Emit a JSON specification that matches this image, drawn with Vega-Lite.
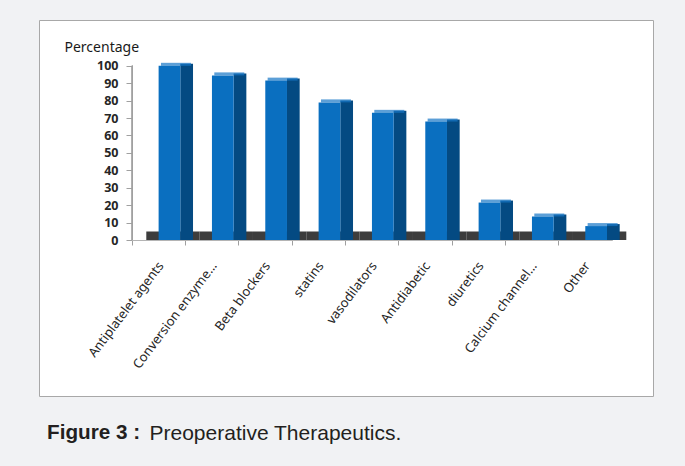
{
  "$schema": "https://vega.github.io/schema/vega-lite/v6.json",
  "width": 614,
  "height": 376,
  "autosize": {"type": "none"},
  "padding": {"left": 39, "top": 20, "right": 32, "bottom": 70},
  "background": "#f1f2f4",
  "config": {
    "view": {"fill": "white", "stroke": "#a8a8a8", "strokeWidth": 1},
    "font": "Noto Sans",
    "axisY": {
      "title": "Percentage",
      "titleAngle": 0,
      "titleAlign": "left",
      "titleBaseline": "middle",
      "titleX": -68,
      "titleY": 27,
      "titleFont": "Noto Sans",
      "titleFontSize": 14,
      "titleFontWeight": "normal",
      "titleColor": "#1a1a1a",
      "offset": -93,
      "domain": false,
      "grid": false,
      "labelOverlap": false,
      "tickSize": 6,
      "tickColor": "#a0a0a0",
      "labelFontSize": 12.5,
      "labelFontWeight": "bold",
      "labelColor": "#262626",
      "labelPadding": 8
    }
  },
  "title": {
    "text": "Figure 3 :",
    "orient": "bottom",
    "anchor": "start",
    "frame": "group",
    "font": "Liberation Sans",
    "fontSize": 20.7,
    "fontWeight": "bold",
    "color": "#231f20",
    "baseline": "alphabetic",
    "dx": 8,
    "offset": -4
  },
  "data": {
    "values": [
      {"drug": "Antiplatelet agents", "pct": 100},
      {"drug": "Conversion enzyme…", "pct": 94.5},
      {"drug": "Beta blockers", "pct": 91.5},
      {"drug": "statins", "pct": 79},
      {"drug": "vasodilators", "pct": 73},
      {"drug": "Antidiabetic", "pct": 68},
      {"drug": "diuretics", "pct": 21.5},
      {"drug": "Calcium channel…", "pct": 13.5},
      {"drug": "Other", "pct": 8}
    ]
  },
  "encoding": {
    "x": {
      "field": "drug",
      "type": "nominal",
      "sort": null,
      "scale": {"paddingInner": 0, "paddingOuter": 0, "range": [93.3, 573.3]},
      "axis": {
        "title": "Preoperative Therapeutics.",
        "titleX": 110,
        "titleY": 199,
        "titleAlign": "left",
        "titleBaseline": "alphabetic",
        "titleFont": "Liberation Sans",
        "titleFontSize": 21,
        "titleFontWeight": "normal",
        "titleColor": "#231f20",
        "offset": -156,
        "domain": true,
        "domainColor": "#b4b4b4",
        "bandPosition": 0,
        "tickSize": 5,
        "tickColor": "#a0a0a0",
        "labelAngle": -53,
        "labelAlign": "right",
        "labelBaseline": "middle",
        "labelOffset": 2,
        "labelPadding": 18,
        "labelFontSize": 13,
        "labelColor": "#262626"
      }
    },
    "y": {
      "field": "pct",
      "type": "quantitative",
      "scale": {"domain": [-89.55, 126.3], "nice": false, "zero": false},
      "axis": {"values": [0, 10, 20, 30, 40, 50, 60, 70, 80, 90, 100], "title": "Percentage"}
    }
  },
  "layer": [
    {
      "mark": {"type": "bar", "color": "#3d3d3d", "width": {"band": 1}, "xOffset": 14},
      "encoding": {
        "y": {"datum": 0, "axis": {"values": [0, 10, 20, 30, 40, 50, 60, 70, 80, 90, 100], "title": "Percentage"}},
        "y2": {"datum": 4.9}
      }
    },
    {
      "mark": {"type": "bar", "color": "#044a82", "width": 12.7, "xOffset": 27.7, "yOffset": -2},
      "encoding": {
        "y2": {"datum": 0}
      }
    },
    {
      "mark": {"type": "tick", "color": "#1776c6", "size": 30, "thickness": 3, "xOffset": 17, "yOffset": -1.5},
      "encoding": {}
    },
    {
      "mark": {"type": "bar", "color": "#0a6fc0", "width": 21.7, "xOffset": 10.5},
      "encoding": {
        "y2": {"datum": 0}
      }
    },
    {
      "mark": {"type": "rule", "color": "#a0a0a0", "xOffset": -26.65},
      "encoding": {
        "x": {"datum": "Antiplatelet agents"},
        "y": {"datum": 0, "axis": {"values": [0, 10, 20, 30, 40, 50, 60, 70, 80, 90, 100], "title": "Percentage"}},
        "y2": {"datum": 100}
      }
    }
  ]
}
